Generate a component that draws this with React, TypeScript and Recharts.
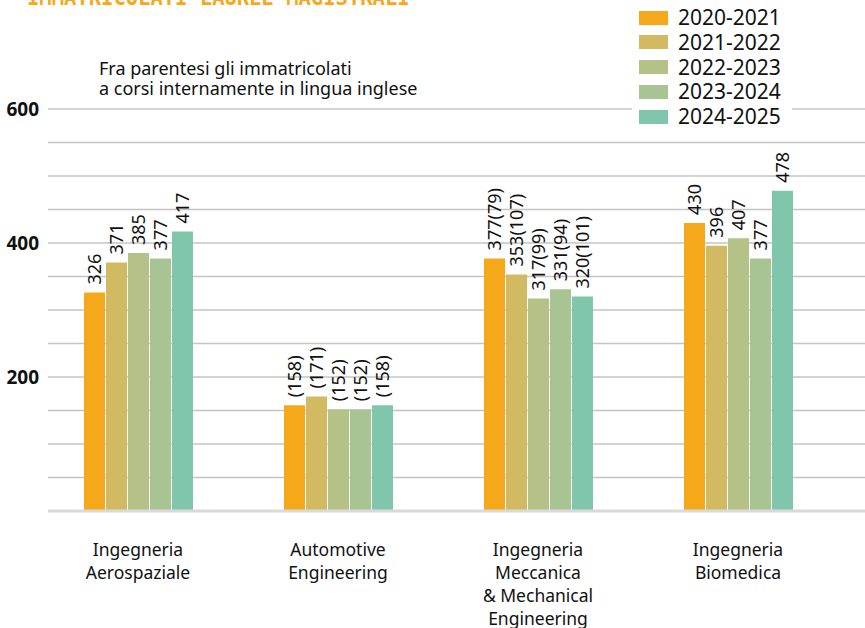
import React from 'react';
import { BarChart, Bar, XAxis, YAxis, CartesianGrid, LabelList } from 'recharts';

// courses on the x axis, one line of tick text per entry
const courses = [
  ['Ingegneria', 'Aerospaziale'],
  ['Automotive', 'Engineering'],
  ['Ingegneria', 'Meccanica', '& Mechanical', 'Engineering'],
  ['Ingegneria', 'Biomedica'],
];

const years = ['2020-2021', '2021-2022', '2022-2023', '2023-2024', '2024-2025'];
const colors = ['#F6A81B', '#D2BA62', '#B4C288', '#A9C493', '#80C6AD'];

// total enrolled, per academic year
const y2020 = [326, 158, 377, 430];
const y2021 = [371, 171, 353, 396];
const y2022 = [385, 152, 317, 407];
const y2023 = [377, 152, 331, 377];
const y2024 = [417, 158, 320, 478];

// enrolled in English-taught courses (shown in brackets)
const en2020 = [null, 158, 79, null];
const en2021 = [null, 171, 107, null];
const en2022 = [null, 152, 99, null];
const en2023 = [null, 152, 94, null];
const en2024 = [null, 158, 101, null];

const yTicks = [200, 400, 600];
const gridValues = [50, 100, 150, 200, 250, 300, 350, 400, 450, 500, 550, 600];

const totals = [y2020, y2021, y2022, y2023, y2024];
const english = [en2020, en2021, en2022, en2023, en2024];

const labelFor = (total: number, en: number | null) => {
  if (en == null) return String(total);
  if (en === total) return `(${en})`;
  return `${total}(${en})`;
};

const data = courses.map((lines, i) => {
  const row: any = { name: lines.join('|') };
  totals.forEach((s, k) => {
    row[`v${k}`] = s[i];
    row[`l${k}`] = labelFor(s[i], english[k][i]);
  });
  return row;
});

const FONT = '"Noto Sans", sans-serif';

const BarLabel = (props: any) => {
  const { x, y, width, value } = props;
  const cx = x + width / 2;
  const cy = y - 8;
  return (
    <text
      x={cx}
      y={cy}
      transform={`rotate(-90, ${cx}, ${cy})`}
      textAnchor="start"
      dominantBaseline="central"
      fontSize={18}
      fontFamily={FONT}
      fill="#111"
    >
      {value}
    </text>
  );
};

const CourseTick = (props: any) => {
  const { x, y, payload } = props;
  const lines = String(payload.value).split('|');
  return (
    <text x={x} y={y + 37} textAnchor="middle" fontSize={17.5} fontFamily={FONT} fill="#111">
      {lines.map((l, i) => (
        <tspan key={i} x={x} dy={i === 0 ? 0 : 23}>
          {l}
        </tspan>
      ))}
    </text>
  );
};

export default function App() {
  return (
    <div style={{ position: 'relative', width: 865, height: 628, background: '#fff' }}>
      <style>{`body{margin:0}`}</style>
      <BarChart
        width={865}
        height={628}
        data={data}
        margin={{ top: 109, right: 0, bottom: 0, left: 0 }}
        barSize={21}
        barGap={1}
      >
        <CartesianGrid
          vertical={false}
          horizontalValues={gridValues}
          stroke="#c4c4c4"
          strokeWidth={1.5}
        />
        <XAxis
          dataKey="name"
          height={117}
          tickLine={false}
          axisLine={{ stroke: '#d9d9d9', strokeWidth: 3 }}
          padding={{ left: -10, right: 27 }}
          tick={<CourseTick />}
          interval={0}
        />
        <YAxis
          width={48}
          domain={[0, 600]}
          ticks={yTicks}
          axisLine={false}
          tickLine={false}
          tick={{ fontSize: 19, fontWeight: 700, fontFamily: FONT, fill: '#111' }}
          tickMargin={3}
        />
        {years.map((yr, k) => (
          <Bar key={yr} dataKey={`v${k}`} name={yr} fill={colors[k]} isAnimationActive={false}>
            <LabelList dataKey={`l${k}`} content={<BarLabel />} />
          </Bar>
        ))}
        <text
          x={27}
          y={5}
          fontSize={20.5}
          fontWeight={700}
          fontFamily='"DejaVu Sans Mono", monospace'
          fill="#F6A81B"
        >
          IMMATRICOLATI LAUREE MAGISTRALI
        </text>
        <text x={99} y={75} fontSize={18} fontFamily={FONT} fill="#111">
          Fra parentesi gli immatricolati
        </text>
        <text x={99} y={94.5} fontSize={18} fontFamily={FONT} fill="#111">
          a corsi internamente in lingua inglese
        </text>
      </BarChart>
      <div
        style={{
          position: 'absolute',
          left: 632,
          top: 0,
          width: 160,
          height: 130,
          background: '#fff',
          fontFamily: FONT,
        }}
      >
        {years.map((yr, k) => (
          <div
            key={yr}
            style={{
              position: 'absolute',
              left: 7,
              top: 6 + k * 24.8,
              height: 23,
              display: 'flex',
              alignItems: 'center',
            }}
          >
            <span style={{ width: 29, height: 14, background: colors[k], display: 'inline-block' }} />
            <span style={{ marginLeft: 10, fontSize: 21, color: '#111', lineHeight: '23px' }}>{yr}</span>
          </div>
        ))}
      </div>
    </div>
  );
}
